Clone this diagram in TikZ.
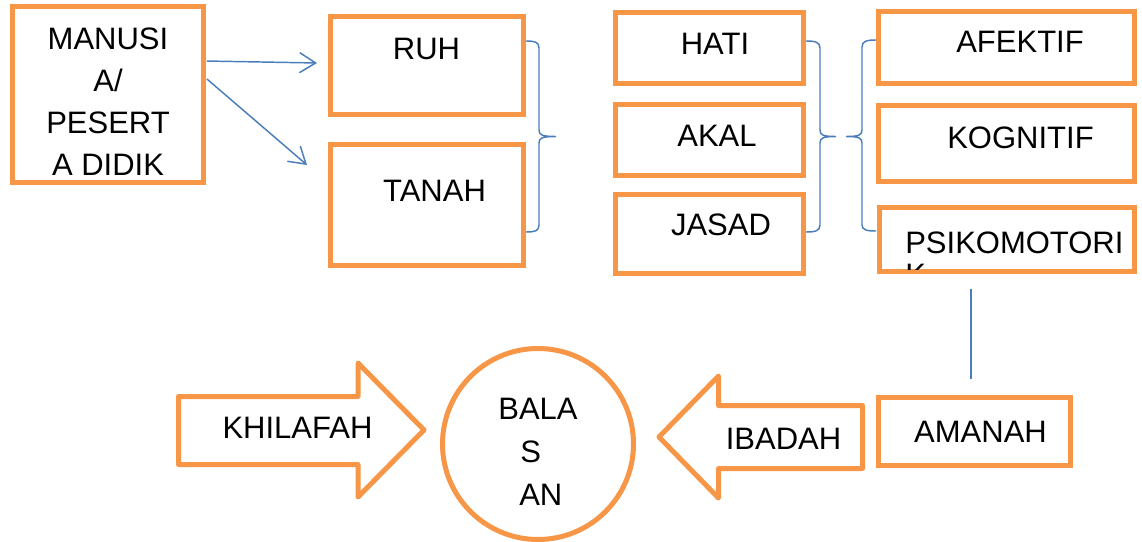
\documentclass[tikz,border=0pt]{standalone}
\usepackage{fontspec}
\setmainfont{Liberation Sans}
\usetikzlibrary{arrows.meta}
\definecolor{borange}{HTML}{F79646}
\definecolor{cblue}{HTML}{4A7EBB}
\begin{document}
\begin{tikzpicture}[x=0.75pt,y=-0.75pt,
  box/.style={draw=borange,line width=3.75pt,inner sep=0pt,outer sep=0pt},
  txt/.style={font=\fontsize{23.25pt}{31.3pt}\selectfont,inner sep=0pt,anchor=base,text=black},
  blockarrow/.style={draw=borange,line width=3.75pt,line join=round},
  conn/.style={draw=cblue,line width=1.1pt},
  arr/.style={conn,-{Straight Barb[length=12pt,width=15pt]}}]
\useasboundingbox (0,0) rectangle (1142,542);
% boxes
\node[box,minimum width=143.25pt,minimum height=132pt] (manusia) at (108,94.5) {};
\node[box,minimum width=144.75pt,minimum height=73.5pt] (ruh) at (427,65.5) {};
\node[box,minimum width=144.75pt,minimum height=90.75pt] (tanah) at (427,205) {};
\node[box,minimum width=141pt,minimum height=53.25pt] (hati) at (709.5,48) {};
\node[box,minimum width=141pt,minimum height=53.25pt] (akal) at (709.5,140) {};
\node[box,minimum width=141pt,minimum height=59.25pt] (jasad) at (709.5,234) {};
\node[box,minimum width=192pt,minimum height=54pt] (afektif) at (1006.5,47.5) {};
\node[box,minimum width=192pt,minimum height=57pt] (kognitif) at (1006.5,143.5) {};
\node[box,minimum width=191.25pt,minimum height=48pt] (psiko) at (1007,239.5) {};
\node[box,minimum width=144pt,minimum height=51pt] (amanah) at (974.5,431.5) {};
\node[box,circle,minimum size=143.25pt] (balasan) at (538,444) {};
% texts
\node[txt,align=center] (t-manusia) at (108,175) {MANUSI\\A/\\PESERT\\A DIDIK};
\node[txt] (t-ruh) at (426.5,60) {RUH};
\node[txt] (t-tanah) at (434.5,201) {TANAH};
\node[txt] (t-hati) at (715,55) {HATI};
\node[txt] (t-akal) at (717,146) {AKAL};
\node[txt] (t-jasad) at (721,235) {JASAD};
\node[txt] (t-afektif) at (1020,53) {AFEKTIF};
\node[txt] (t-kognitif) at (1020.5,148) {KOGNITIF};
\begin{scope}
  \clip (882,210) rectangle (1132,269);
  \node[txt,anchor=base west,align=left,font=\fontsize{23.25pt}{24pt}\selectfont] (t-psiko) at (905,285) {PSIKOMOTORI\\K};
\end{scope}
\node[txt] (t-amanah) at (980.5,442) {AMANAH};
\node[txt] (t-bala) at (538,419) {BALA};
\node[txt,anchor=base west] (t-s) at (520,462) {S};
\node[txt,anchor=base west] (t-an) at (519,505) {AN};
% block arrows
\draw[blockarrow] (178.5,396.5) -- (358,396.5) -- (358,363) -- (424,430) -- (358,497) -- (358,464.5) -- (178.5,464.5) -- cycle;
\node[txt] (t-khilafah) at (297.5,438) {KHILAFAH};
\draw[blockarrow] (862.5,405.5) -- (718.5,405.5) -- (718.5,376) -- (659,437) -- (718.5,498) -- (718.5,468.5) -- (862.5,468.5) -- cycle;
\node[txt] (t-ibadah) at (783.5,449) {IBADAH};
% connectors
\coordinate (e1) at (317,63);
\coordinate (e2) at (307,165);
\draw[arr] ([xshift=2.6pt,yshift=25.1pt]manusia.east) -- (e1);
\draw[arr] ([xshift=2.6pt,yshift=11.6pt]manusia.east) -- (e2);
\coordinate (v1) at (971,289);
\coordinate (v2) at (971,379);
\draw[conn] (v1) -- (v2);
% braces
\draw[conn] (526,41) .. controls (535,41) and (539,42) .. (539,48) -- (539,130)
  .. controls (539,135) and (542,136.5) .. (556,136.5)
  .. controls (542,136.5) and (539,138) .. (539,143) -- (539,225)
  .. controls (539,231) and (535,232) .. (526,232);
\draw[conn] (806,41) .. controls (815,41) and (820,42) .. (820,48) -- (820,130)
  .. controls (820,135) and (823,136.5) .. (836,136.5)
  .. controls (823,136.5) and (820,138) .. (820,143) -- (820,225)
  .. controls (820,231) and (815,232) .. (806,232);
\draw[conn] (876,40) .. controls (867,40) and (862,41) .. (862,47) -- (862,130)
  .. controls (862,135) and (859,136.5) .. (846,136.5)
  .. controls (859,136.5) and (862,138) .. (862,143) -- (862,225)
  .. controls (862,230) and (867,231) .. (876,231);
\end{tikzpicture}
\end{document}
